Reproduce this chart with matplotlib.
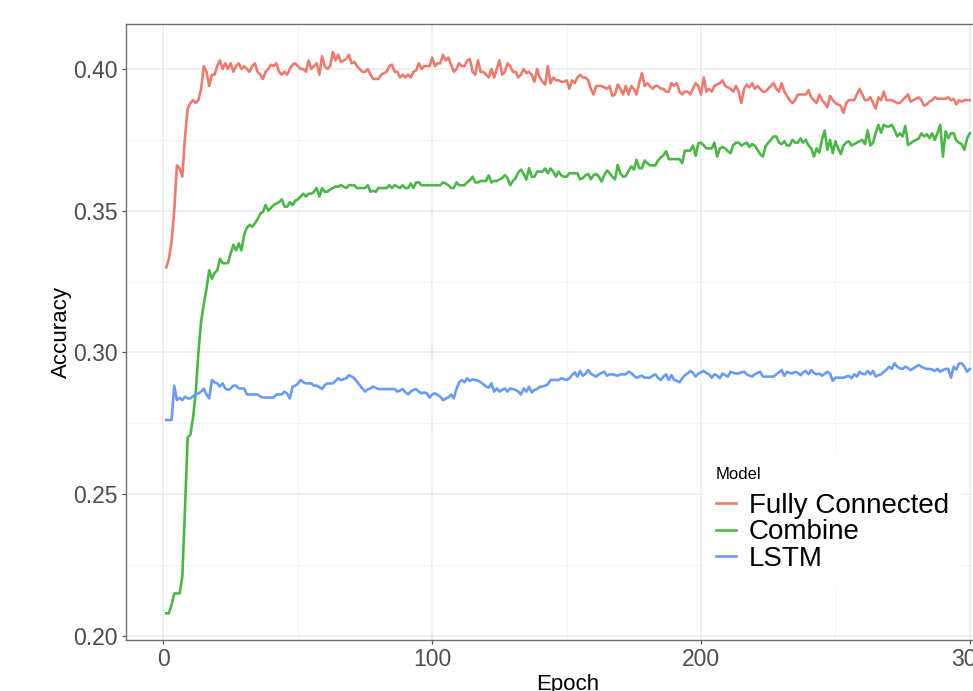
import numpy as np
import matplotlib
matplotlib.use("Agg")
import matplotlib.pyplot as plt
from matplotlib.ticker import MultipleLocator

plt.rcParams['font.family'] = ['Liberation Sans', 'DejaVu Sans']

# accuracy per epoch
fully_connected = [
    0.330, 0.333, 0.339, 0.350, 0.366, 0.365, 0.362, 0.376, 0.386, 0.388,
    0.389, 0.388, 0.389, 0.393, 0.401, 0.399, 0.394, 0.398, 0.398, 0.401,
    0.403, 0.400, 0.402, 0.400, 0.402, 0.399, 0.401, 0.402, 0.400, 0.401,
    0.400, 0.399, 0.401, 0.402, 0.399, 0.398, 0.3965, 0.399, 0.400, 0.4015,
    0.401, 0.402, 0.399, 0.398, 0.399, 0.398, 0.400, 0.4015, 0.402, 0.401,
    0.400, 0.400, 0.399, 0.403, 0.400, 0.401, 0.402, 0.398, 0.4045, 0.401,
    0.400, 0.401, 0.406, 0.403, 0.405, 0.4025, 0.403, 0.4035, 0.405, 0.402,
    0.4025, 0.401, 0.400, 0.399, 0.399, 0.400, 0.398, 0.3965, 0.3965, 0.3965,
    0.398, 0.3985, 0.399, 0.401, 0.4015, 0.399, 0.399, 0.397, 0.398, 0.397,
    0.398, 0.397, 0.399, 0.3995, 0.402, 0.400, 0.401, 0.401, 0.401, 0.404,
    0.401, 0.402, 0.402, 0.405, 0.403, 0.404, 0.4015, 0.399, 0.400, 0.402,
    0.401, 0.401, 0.403, 0.4035, 0.399, 0.398, 0.403, 0.399, 0.399, 0.398,
    0.397, 0.400, 0.397, 0.400, 0.403, 0.398, 0.399, 0.402, 0.401, 0.399,
    0.399, 0.397, 0.398, 0.400, 0.3985, 0.399, 0.398, 0.3955, 0.400, 0.397,
    0.3955, 0.3945, 0.401, 0.395, 0.397, 0.396, 0.396, 0.3955, 0.3955, 0.396,
    0.393, 0.396, 0.395, 0.397, 0.398, 0.397, 0.397, 0.396, 0.393, 0.391,
    0.394, 0.394, 0.394, 0.3935, 0.393, 0.394, 0.3905, 0.391, 0.3945, 0.393,
    0.391, 0.394, 0.391, 0.394, 0.393, 0.391, 0.395, 0.3985, 0.394, 0.395,
    0.394, 0.393, 0.394, 0.394, 0.393, 0.393, 0.392, 0.392, 0.395, 0.394,
    0.395, 0.392, 0.391, 0.392, 0.392, 0.391, 0.393, 0.395, 0.394, 0.391,
    0.397, 0.392, 0.393, 0.392, 0.394, 0.3945, 0.395, 0.396, 0.394, 0.3935,
    0.393, 0.392, 0.394, 0.392, 0.388, 0.393, 0.3945, 0.3935, 0.395, 0.393,
    0.394, 0.393, 0.392, 0.392, 0.393, 0.394, 0.395, 0.393, 0.392, 0.395,
    0.392, 0.3905, 0.389, 0.388, 0.389, 0.391, 0.391, 0.391, 0.391, 0.3925,
    0.390, 0.389, 0.388, 0.391, 0.389, 0.388, 0.3865, 0.3905, 0.389, 0.388,
    0.3875, 0.387, 0.3845, 0.388, 0.389, 0.389, 0.389, 0.391, 0.393, 0.391,
    0.389, 0.389, 0.390, 0.388, 0.386, 0.390, 0.389, 0.392, 0.389, 0.389,
    0.389, 0.3885, 0.388, 0.388, 0.389, 0.390, 0.391, 0.3885, 0.389, 0.3895,
    0.390, 0.389, 0.387, 0.3875, 0.3885, 0.389, 0.390, 0.3895, 0.3895, 0.3895,
    0.3895, 0.390, 0.389, 0.3895, 0.3875, 0.389, 0.3885, 0.389, 0.389, 0.389,
]

combine = [
    0.208, 0.208, 0.211, 0.215, 0.215, 0.215, 0.221, 0.245, 0.270, 0.271,
    0.277, 0.286, 0.300, 0.311, 0.317, 0.3225, 0.329, 0.326, 0.328, 0.329,
    0.333, 0.3315, 0.3315, 0.3315, 0.335, 0.338, 0.336, 0.3385, 0.336, 0.3414,
    0.344, 0.345, 0.3444, 0.3455, 0.347, 0.349, 0.3496, 0.352, 0.350, 0.351,
    0.352, 0.3526, 0.353, 0.354, 0.3515, 0.3514, 0.353, 0.352, 0.3535, 0.354,
    0.355, 0.356, 0.355, 0.356, 0.356, 0.3567, 0.358, 0.355, 0.358, 0.3567,
    0.3567, 0.3575, 0.358, 0.3585, 0.3585, 0.359, 0.3585, 0.358, 0.359, 0.359,
    0.359, 0.358, 0.358, 0.358, 0.358, 0.359, 0.3567, 0.357, 0.3567, 0.358,
    0.358, 0.358, 0.358, 0.359, 0.358, 0.359, 0.3585, 0.358, 0.359, 0.358,
    0.358, 0.3596, 0.358, 0.360, 0.360, 0.359, 0.359, 0.359, 0.359, 0.359,
    0.359, 0.359, 0.359, 0.360, 0.3596, 0.359, 0.358, 0.358, 0.360, 0.359,
    0.359, 0.359, 0.360, 0.3608, 0.362, 0.360, 0.360, 0.3605, 0.3605, 0.3605,
    0.3625, 0.360, 0.3605, 0.3605, 0.361, 0.3615, 0.3626, 0.3615, 0.359, 0.3605,
    0.3615, 0.3635, 0.3645, 0.363, 0.361, 0.365, 0.362, 0.362, 0.3638, 0.3638,
    0.3638, 0.3649, 0.3632, 0.3649, 0.3638, 0.362, 0.3638, 0.3625, 0.362, 0.362,
    0.3632, 0.3632, 0.3632, 0.3632, 0.3611, 0.3615, 0.3625, 0.363, 0.3611, 0.3625,
    0.363, 0.362, 0.3603, 0.3625, 0.3642, 0.3632, 0.362, 0.3611, 0.3662, 0.3632,
    0.362, 0.3622, 0.364, 0.3656, 0.3645, 0.368, 0.365, 0.365, 0.3677, 0.3668,
    0.366, 0.366, 0.366, 0.3677, 0.3688, 0.3695, 0.371, 0.3682, 0.3682, 0.3682,
    0.3682, 0.3682, 0.3668, 0.3712, 0.3712, 0.3712, 0.373, 0.3694, 0.3738, 0.374,
    0.373, 0.372, 0.372, 0.372, 0.374, 0.3691, 0.372, 0.3725, 0.372, 0.371,
    0.3703, 0.3732, 0.374, 0.374, 0.373, 0.3735, 0.374, 0.3725, 0.3735, 0.373,
    0.3715, 0.370, 0.3691, 0.3727, 0.374, 0.375, 0.3762, 0.3762, 0.374, 0.3735,
    0.3745, 0.373, 0.373, 0.375, 0.374, 0.374, 0.3755, 0.374, 0.375, 0.373,
    0.372, 0.3691, 0.372, 0.3705, 0.375, 0.3783, 0.3715, 0.375, 0.3703, 0.3745,
    0.372, 0.370, 0.373, 0.374, 0.3745, 0.373, 0.3735, 0.374, 0.3745, 0.375,
    0.3735, 0.3783, 0.373, 0.374, 0.3775, 0.3803, 0.3775, 0.3803, 0.3797, 0.3797,
    0.3803, 0.3785, 0.3762, 0.3773, 0.3762, 0.3799, 0.3732, 0.3738, 0.3745, 0.375,
    0.3755, 0.3773, 0.3762, 0.377, 0.3756, 0.3773, 0.375, 0.3775, 0.3803, 0.3691,
    0.378, 0.3756, 0.3773, 0.3773, 0.3747, 0.374, 0.3735, 0.3715, 0.3755, 0.3773,
]

lstm = [
    0.2762, 0.2762, 0.2762, 0.2883, 0.2832, 0.2840, 0.2832, 0.2844, 0.2838, 0.2838,
    0.2845, 0.2852, 0.2856, 0.2862, 0.2872, 0.2852, 0.2838, 0.2903, 0.2895, 0.2891,
    0.2880, 0.2891, 0.2873, 0.2868, 0.2873, 0.2883, 0.2883, 0.2873, 0.2873, 0.2873,
    0.2852, 0.2852, 0.2852, 0.2852, 0.2852, 0.2845, 0.2841, 0.2841, 0.2841, 0.2841,
    0.2841, 0.2852, 0.2852, 0.2852, 0.2862, 0.2855, 0.2838, 0.2879, 0.2883, 0.2890,
    0.2903, 0.2895, 0.2891, 0.2891, 0.2891, 0.2883, 0.2883, 0.2878, 0.2871, 0.2885,
    0.2891, 0.2891, 0.2891, 0.2900, 0.2909, 0.2903, 0.2906, 0.2909, 0.2920, 0.2915,
    0.2909, 0.2897, 0.2885, 0.2873, 0.2862, 0.2870, 0.2873, 0.2880, 0.2875, 0.2871,
    0.2871, 0.2871, 0.2871, 0.2871, 0.2871, 0.2871, 0.2862, 0.2866, 0.2871, 0.2860,
    0.2852, 0.2862, 0.2868, 0.2871, 0.2862, 0.2856, 0.2859, 0.2856, 0.2841, 0.2852,
    0.2856, 0.2850, 0.2844, 0.2832, 0.2838, 0.2841, 0.2852, 0.2838, 0.2871, 0.2895,
    0.2903, 0.2895, 0.2909, 0.2900, 0.2905, 0.2903, 0.2901, 0.2895, 0.2888, 0.2880,
    0.2876, 0.2891, 0.2862, 0.2873, 0.2862, 0.2868, 0.2873, 0.2862, 0.2873, 0.2871,
    0.2868, 0.2862, 0.2852, 0.2873, 0.2862, 0.2879, 0.2859, 0.2868, 0.2871, 0.2879,
    0.2880, 0.2883, 0.2888, 0.2903, 0.2903, 0.2903, 0.2903, 0.2909, 0.2906, 0.2903,
    0.2909, 0.2920, 0.2930, 0.2915, 0.2935, 0.2918, 0.2925, 0.2938, 0.2925, 0.2920,
    0.2915, 0.2923, 0.2928, 0.2932, 0.2918, 0.2923, 0.2923, 0.2920, 0.2918, 0.2923,
    0.2923, 0.2923, 0.2932, 0.2928, 0.2918, 0.2911, 0.2915, 0.2918, 0.2911, 0.2911,
    0.2911, 0.2918, 0.2923, 0.2911, 0.2903, 0.2915, 0.2923, 0.2903, 0.2920, 0.2903,
    0.2900, 0.2895, 0.2909, 0.2920, 0.2926, 0.2935, 0.2928, 0.2915, 0.2926, 0.2930,
    0.2935, 0.2928, 0.2923, 0.2911, 0.2923, 0.2918, 0.2909, 0.2926, 0.2920, 0.2915,
    0.2932, 0.2928, 0.2926, 0.2926, 0.2930, 0.2932, 0.2923, 0.2918, 0.2915, 0.2923,
    0.2928, 0.2932, 0.2915, 0.2915, 0.2915, 0.2915, 0.2915, 0.2923, 0.2930, 0.2938,
    0.2918, 0.2932, 0.2928, 0.2926, 0.2932, 0.2928, 0.2920, 0.2930, 0.2935, 0.2923,
    0.2938, 0.2928, 0.2923, 0.2926, 0.2918, 0.2925, 0.2932, 0.2926, 0.2900, 0.2911,
    0.2911, 0.2911, 0.2911, 0.2915, 0.2918, 0.2909, 0.2923, 0.2915, 0.2932, 0.2925,
    0.2923, 0.2935, 0.2923, 0.2935, 0.2915, 0.2920, 0.2923, 0.2932, 0.2940, 0.2950,
    0.2942, 0.2962, 0.2950, 0.2944, 0.2942, 0.2950, 0.2945, 0.2938, 0.2944, 0.2950,
    0.2956, 0.2950, 0.2945, 0.2942, 0.2942, 0.2940, 0.2935, 0.2942, 0.2932, 0.2938,
    0.2942, 0.2942, 0.2911, 0.2950, 0.2940, 0.2962, 0.2962, 0.2950, 0.2932, 0.2942,
]

epochs = np.arange(1, len(fully_connected) + 1)
labels = ["Fully Connected", "Combine", "LSTM"]
colors = ["#EB7B6F", "#4CB648", "#6A9BF4"]

fig = plt.figure(figsize=(9.73, 6.91), dpi=100)
# panel runs past the right edge, like the cropped original
ax = fig.add_axes([0.1295, 0.0738, 0.9085, 0.8915])

for y, lab, c in zip([fully_connected, combine, lstm], labels, colors):
    ax.plot(epochs, y, color=c, lw=1.9, label=lab)

ax.set_xlim(-13.95, 314.95)
ax.set_ylim(0.19859, 0.41587)
ax.xaxis.set_major_locator(MultipleLocator(100))
ax.xaxis.set_minor_locator(MultipleLocator(50))
ax.yaxis.set_major_locator(MultipleLocator(0.05))
ax.yaxis.set_minor_locator(MultipleLocator(0.025))
ax.yaxis.set_major_formatter(plt.FuncFormatter(lambda v, p: f"{v:.2f}"))

ax.grid(which="major", color="#ebebeb", lw=1.1)
ax.grid(which="minor", color="#f3f3f3", lw=0.8)
ax.set_axisbelow(True)

for s in ax.spines.values():
    s.set_color("#707070")
    s.set_linewidth(1.0)

ax.tick_params(which="major", length=3, width=0.9, color="#555555",
               labelsize=16.5, labelcolor="#4d4d4d", pad=3)
ax.tick_params(which="minor", length=0)

ax.set_xlabel("Epoch", fontsize=16, labelpad=2)
ax.set_ylabel("Accuracy", fontsize=16, labelpad=1)

leg = ax.legend(title="Model", loc="upper left",
                bbox_to_anchor=(703 / 973, 1 - 455 / 691),
                bbox_transform=fig.transFigure,
                fontsize=20, title_fontsize=12, frameon=True,
                handlelength=0.75, handletextpad=0.45, labelspacing=0.02,
                borderpad=0.45, borderaxespad=0)
leg._legend_box.align = "left"
leg._legend_box.sep = 7.5
leg.get_frame().set_facecolor("white")
leg.get_frame().set_edgecolor("none")
leg.get_frame().set_alpha(1)

fig.savefig("out.png", dpi=100)
